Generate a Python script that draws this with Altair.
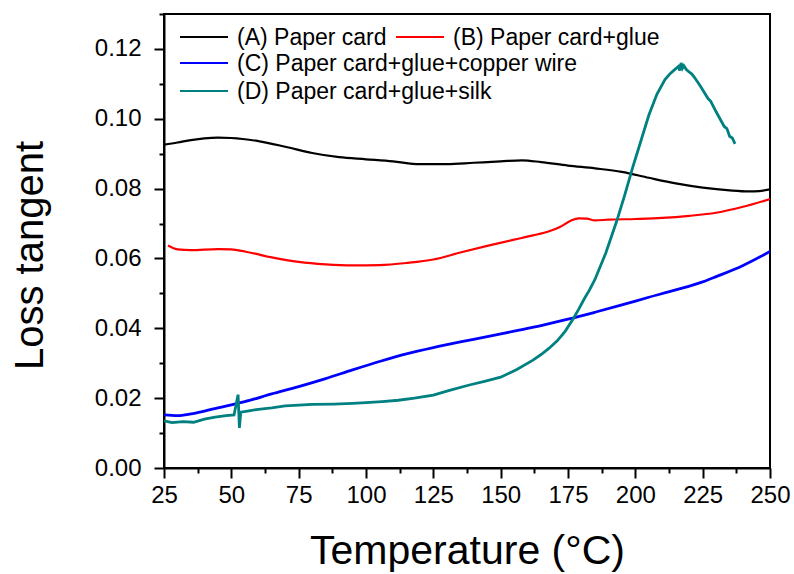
import altair as alt
import pandas as pd

# (A) Paper card
temp_a = [25, 30, 35, 40, 45, 50, 60, 70, 80, 90, 100, 110, 120, 130, 140, 150,
          158, 165, 175, 185, 195, 205, 215, 225, 235, 242, 246, 250]
loss_a = [0.0926, 0.0932, 0.0939, 0.0944, 0.0946, 0.0945, 0.0936, 0.0920, 0.0902,
          0.0890, 0.0884, 0.0878, 0.0870, 0.0870, 0.0874, 0.0878, 0.0881, 0.0876,
          0.0866, 0.0858, 0.0848, 0.0831, 0.0815, 0.0803, 0.0795, 0.0792, 0.0793,
          0.0798]

# (B) Paper card+glue
temp_b = [26.5, 30, 35, 45, 50, 55, 65, 75, 85, 95, 105, 115, 125, 135, 145, 155,
          162, 168, 172, 176, 179, 182, 185, 190, 200, 210, 220, 230, 240, 250]
loss_b = [0.0637, 0.0626, 0.0624, 0.0627, 0.0626, 0.0620, 0.0603, 0.0590, 0.0583,
          0.0580, 0.0581, 0.0587, 0.0597, 0.0617, 0.0636, 0.0654, 0.0666, 0.0678,
          0.0690, 0.0708, 0.0715, 0.0714, 0.0709, 0.0711, 0.0713, 0.0716, 0.0722,
          0.0731, 0.0748, 0.0770]

# (C) Paper card+glue+copper wire
temp_c = [25, 30, 35, 40, 45, 55, 65, 75, 85, 95, 105, 115, 125, 135, 145, 155,
          165, 175, 185, 195, 205, 215, 225, 230, 240, 250]
loss_c = [0.0152, 0.0150, 0.0155, 0.0163, 0.0172, 0.0190, 0.0212, 0.0233, 0.0256,
          0.0281, 0.0305, 0.0327, 0.0345, 0.0361, 0.0376, 0.0392, 0.0408, 0.0426,
          0.0446, 0.0467, 0.0489, 0.0510, 0.0533, 0.0548, 0.0580, 0.0620]

# (D) Paper card+glue+silk
temp_d = [25, 28, 32, 36, 40, 44, 48, 51, 52.5, 53, 53.5, 56, 60, 65, 70, 75, 80,
          88, 95, 100, 106, 112, 118, 125, 131, 138, 144, 150, 156, 162, 165, 168,
          171, 174, 177, 179, 181, 183, 185, 189, 193, 196, 199, 202, 205, 208, 211,
          213, 214.5, 216, 216.5, 217, 217.5, 218, 219, 221, 222, 224, 227, 228, 230,
          233, 234, 235, 236, 237]
loss_d = [0.0135, 0.0130, 0.0133, 0.0131, 0.0140, 0.0146, 0.0150, 0.0152, 0.0210,
          0.0115, 0.0160, 0.0163, 0.0168, 0.0172, 0.0178, 0.0180, 0.0182, 0.0183,
          0.0185, 0.0187, 0.0190, 0.0194, 0.0200, 0.0209, 0.0222, 0.0237, 0.0248,
          0.0260, 0.0282, 0.0309, 0.0325, 0.0343, 0.0364, 0.0392, 0.0428, 0.0455,
          0.0484, 0.0510, 0.0540, 0.0615, 0.0705, 0.0780, 0.0860, 0.0935, 0.1010,
          0.1070, 0.1112, 0.1130, 0.1140, 0.1150, 0.1138, 0.1160, 0.1145, 0.1152,
          0.1140, 0.1128, 0.1118, 0.1095, 0.1058, 0.1050, 0.1020, 0.0978, 0.0972,
          0.0950, 0.0945, 0.0928]

series_names = ["(A) Paper card", "(B) Paper card+glue",
                "(C) Paper card+glue+copper wire", "(D) Paper card+glue+silk"]
series_colors = ["#000000", "#ff0000", "#0000ff", "#008080"]
series_widths = [2.2, 2.2, 2.8, 2.8]

x_ticks = [25 + 12.5 * i for i in range(19)]
y_ticks = [round(0.01 * i, 2) for i in range(14)]

FONT = "Liberation Sans"

x_enc = alt.X(
    "temp:Q",
    scale=alt.Scale(domain=[25, 250], nice=False, zero=False),
    axis=alt.Axis(
        values=x_ticks,
        title="Temperature (°C)",
        labelExpr="datum.value % 25 === 0 ? datum.label : ''",
        tickSize={"condition": {"test": "datum.value % 25 === 0", "value": 10}, "value": 5},
        labelFlush=False,
        labelOverlap=False,
        labelPadding=5,
        titleFontSize=41,
        titleY=95,
        titleBaseline="alphabetic",
    ),
)
y_enc = alt.Y(
    "loss:Q",
    scale=alt.Scale(domain=[0, 0.13], nice=False),
    axis=alt.Axis(
        values=y_ticks,
        format=".2f",
        title="Loss tangent",
        labelExpr="round(datum.value * 100) % 2 === 0 ? datum.label : ''",
        tickSize={"condition": {"test": "round(datum.value * 100) % 2 === 0", "value": 10}, "value": 5},
        labelOverlap=False,
        labelPadding=13,
        titleFontSize=40,
        titleX=-134,
        titleY=241,
        titleAlign="center",
        titleBaseline="middle",
    ),
)

series_data = [(temp_a, loss_a), (temp_b, loss_b), (temp_c, loss_c), (temp_d, loss_d)]
layers = []
for i, (t, v) in enumerate(series_data):
    df = pd.DataFrame({"temp": t, "loss": v, "series": series_names[i]})
    layers.append(
        alt.Chart(df)
        .mark_line(
            color=series_colors[i],
            strokeWidth=series_widths[i],
            interpolate="linear" if i == 3 else "monotone",
            clip=True,
        )
        .encode(x=x_enc, y=y_enc)
    )

# hand-laid legend in the upper left of the plot area
legend_slots = [(16, 23), (232, 23), (16, 49), (16, 77)]
for i, (lx, ly) in enumerate(legend_slots):
    entry = pd.DataFrame({"label": [series_names[i]]})
    layers.append(
        alt.Chart(entry)
        .mark_rule(color=series_colors[i], strokeWidth=2)
        .encode(x=alt.value(lx), x2=alt.value(lx + 48), y=alt.value(ly))
    )
    layers.append(
        alt.Chart(entry)
        .mark_text(align="left", baseline="middle", font=FONT, fontSize=23, color="#000000")
        .encode(x=alt.value(lx + 57), y=alt.value(ly + 1), text="label:N")
    )

chart = (
    alt.layer(*layers)
    .properties(
        width=606,
        height=454,
        autosize=alt.AutoSizeParams(type="none"),
        padding={"left": 164, "top": 14, "right": 24, "bottom": 106},
        background="#ffffff",
    )
    .configure_view(stroke="#000000", strokeWidth=2)
    .configure_axis(
        grid=False,
        domainColor="#000000",
        domainWidth=2,
        tickColor="#000000",
        tickWidth=2,
        labelFont=FONT,
        labelFontSize=24,
        labelColor="#000000",
        titleFont=FONT,
        titleFontWeight="normal",
        titleColor="#000000",
    )
)

chart.save("out.html", embed_options={"renderer": "svg", "actions": False})
